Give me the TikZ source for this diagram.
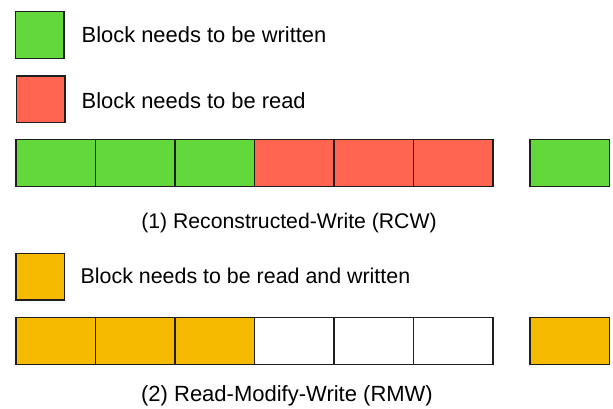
\documentclass[tikz,border=0pt]{standalone}
\usepackage{fontspec}
\setmainfont{Liberation Sans}
\definecolor{wgreen}{RGB}{99,216,58}
\definecolor{rred}{RGB}{255,101,80}
\definecolor{rwamber}{RGB}{246,186,0}
\definecolor{edge}{RGB}{30,30,30}
\begin{document}
\begin{tikzpicture}[x=1pt,y=-1pt,
  blk/.style={draw=edge,line width=1.1pt,minimum width=79.5pt,minimum height=47pt,
              inner sep=0pt,outer sep=0pt,anchor=north west},
  key/.style={draw=edge,line width=1.1pt,minimum width=48.5pt,minimum height=46.5pt,
              inner sep=0pt,outer sep=0pt,anchor=north west},
  lbl/.style={font=\fontsize{#1}{24}\selectfont,inner sep=0pt,anchor=base west},
  lbl/.default=21.9,
  captext/.style={font=\fontsize{#1}{24}\selectfont,inner sep=0pt,anchor=base}]
\useasboundingbox (0,0) rectangle (613,409);
% legend
\node[key,fill=wgreen] (kw) at (15.5,11.8) {};
\node[lbl] (tw) at (81.5,42.3) {Block needs to be written};
\node[key,fill=rred] (kr) at (16.5,76) {};
\node[lbl] (tr) at (81.5,108.3) {Block needs to be read};
% row 1: reconstructed write
\foreach \i/\c in {0/wgreen,1/wgreen,2/wgreen,3/rred,4/rred,5/rred}
  \node[blk,fill=\c] (a\i) at (16+79.5*\i,139.3) {};
\node[blk,fill=wgreen] (ap) at (530,139.3) {};
\node[captext=21.2] (c1) at (289,228) {(1) Reconstructed-Write (RCW)};
% legend for row 2
\node[key,fill=rwamber] (krw) at (16,253.5) {};
\node[lbl=21.4] (trw) at (80.5,283) {Block needs to be read and written};
% row 2: read-modify-write
\foreach \i/\c in {0/rwamber,1/rwamber,2/rwamber,3/white,4/white,5/white}
  \node[blk,fill=\c] (b\i) at (16+79.5*\i,317.3) {};
\node[blk,fill=rwamber] (bp) at (530,317.3) {};
\node[captext=22] (c2) at (287,401.7) {(2) Read-Modify-Write (RMW)};
\end{tikzpicture}
\end{document}
